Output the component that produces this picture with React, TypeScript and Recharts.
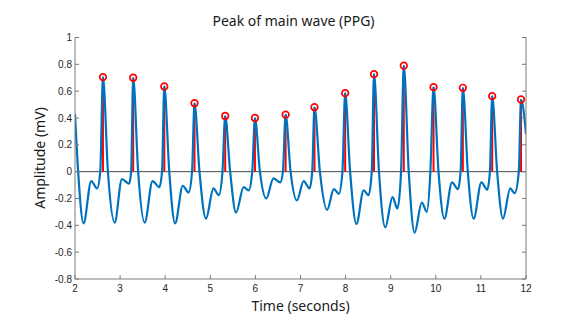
import React from 'react';
import { ComposedChart, Line, Scatter, XAxis, YAxis, ReferenceLine } from 'recharts';

// PPG waveform samples (time in s, amplitude in mV)
const ppgTime = [
  2.0, 2.07, 2.19, 2.36, 2.49, 2.56,
  2.62, 2.73, 2.88, 3.04, 3.2, 3.245,
  3.29, 3.4, 3.545, 3.72, 3.87, 3.93,
  3.98, 4.09, 4.22, 4.39, 4.52, 4.595,
  4.65, 4.76, 4.905, 5.07, 5.19, 5.27,
  5.33, 5.44, 5.57, 5.74, 5.85, 5.93,
  5.99, 6.1, 6.24, 6.4, 6.55, 6.61,
  6.67, 6.78, 6.92, 7.07, 7.2, 7.26,
  7.31, 7.43, 7.59, 7.74, 7.85, 7.93,
  7.99, 8.1, 8.24, 8.4, 8.51, 8.58,
  8.63, 8.74, 8.88, 9.04, 9.15, 9.23,
  9.29, 9.4, 9.53, 9.69, 9.8, 9.88,
  9.95, 10.06, 10.19, 10.36, 10.49, 10.55,
  10.6, 10.71, 10.84, 11.01, 11.14, 11.2,
  11.25, 11.36, 11.49, 11.65, 11.75, 11.84,
  11.89, 12.0,
];
const ppgAmp = [
  0.43, 0.0, -0.385, -0.07, -0.125, 0.0,
  0.705, 0.0, -0.38, -0.055, -0.09, 0.0,
  0.7, 0.0, -0.38, -0.07, -0.115, 0.0,
  0.635, 0.0, -0.385, -0.105, -0.155, 0.0,
  0.51, 0.0, -0.35, -0.125, -0.175, 0.0,
  0.415, 0.0, -0.305, -0.115, -0.14, 0.0,
  0.4, 0.0, -0.2, -0.05, -0.08, 0.0,
  0.425, 0.0, -0.215, -0.07, -0.125, 0.0,
  0.48, 0.0, -0.285, -0.13, -0.165, 0.0,
  0.585, 0.0, -0.39, -0.14, -0.175, 0.0,
  0.727, 0.0, -0.415, -0.19, -0.275, 0.0,
  0.79, 0.0, -0.455, -0.23, -0.3, 0.0,
  0.63, 0.0, -0.35, -0.08, -0.13, 0.0,
  0.625, 0.0, -0.35, -0.08, -0.135, 0.0,
  0.563, 0.0, -0.35, -0.125, -0.16, 0.0,
  0.538, 0.28,
];

// Detected main-wave peaks
const peakTime = [2.62, 3.29, 3.98, 4.65, 5.33, 5.99, 6.67, 7.31, 7.99, 8.63, 9.29, 9.95, 10.6, 11.25, 11.89];
const peakAmp = [0.705, 0.7, 0.635, 0.51, 0.415, 0.4, 0.425, 0.48, 0.585, 0.727, 0.79, 0.63, 0.625, 0.563, 0.538];

const xTicks = [2, 3, 4, 5, 6, 7, 8, 9, 10, 11, 12];
const yTicks = [-0.8, -0.6, -0.4, -0.2, 0, 0.2, 0.4, 0.6, 0.8, 1];

const titleText = 'Peak of main wave (PPG)';
const xLabel = 'Time (seconds)';
const yLabel = 'Amplitude (mV)';

const ppgData = ppgTime.map((t, i) => ({ t, v: ppgAmp[i] }));
const peakData = peakTime.map((t, i) => ({ t, v: peakAmp[i] }));

const AXIS = '#7a7a7a';
const TICK_STYLE = { fill: '#262626', fontSize: 10, fontFamily: '"Liberation Sans", Arial, sans-serif' };
const LABEL_FONT = '"Noto Sans", "Open Sans", sans-serif';

const PeakMarker = (props: any) => {
  const { cx, cy } = props;
  if (cx == null || cy == null) return null;
  return <circle cx={cx} cy={cy} r={3.3} fill="none" stroke="#ff0000" strokeWidth={1.7} />;
};

export default function App() {
  return (
    <div style={{ position: 'absolute', left: 0, top: 0, width: 580, height: 325, background: '#fff' }}>
      <ComposedChart width={580} height={325} margin={{ top: 37.5, right: 0, bottom: 0, left: 0 }}>
        <XAxis
          dataKey="t"
          type="number"
          domain={[2, 12]}
          ticks={xTicks}
          allowDataOverflow
          height={46}
          tickSize={-4}
          tickMargin={10}
          stroke={AXIS}
          tick={TICK_STYLE}
          tickLine={{ stroke: AXIS }}
        />
        <XAxis
          xAxisId="top"
          orientation="top"
          type="number"
          domain={[2, 12]}
          ticks={xTicks}
          allowDataOverflow
          height={0}
          tickSize={-4}
          tickFormatter={() => ''}
          stroke={AXIS}
          tickLine={{ stroke: AXIS }}
        />
        <YAxis
          type="number"
          domain={[-0.8, 1]}
          ticks={yTicks}
          allowDataOverflow
          width={75}
          tickSize={-4}
          tickMargin={7}
          stroke={AXIS}
          tick={TICK_STYLE}
          tickLine={{ stroke: AXIS }}
          tickFormatter={(v: number) => String(v)}
        />
        <YAxis
          yAxisId="right"
          orientation="right"
          type="number"
          domain={[-0.8, 1]}
          ticks={yTicks}
          allowDataOverflow
          width={54}
          tickSize={-4}
          tickFormatter={() => ''}
          stroke={AXIS}
          tickLine={{ stroke: AXIS }}
        />
        <ReferenceLine y={0} stroke="#454545" strokeWidth={1} />
        {peakData.map((p) => (
          <ReferenceLine
            key={p.t}
            segment={[{ x: p.t, y: 0 }, { x: p.t, y: p.v }]}
            stroke="#ff0000"
            strokeWidth={2}
          />
        ))}
        <Line
          data={ppgData}
          dataKey="v"
          type="monotone"
          stroke="#0072BD"
          strokeWidth={2.2}
          dot={false}
          activeDot={false}
          isAnimationActive={false}
        />
        <Scatter data={peakData} dataKey="v" shape={<PeakMarker />} isAnimationActive={false} />
      </ComposedChart>
      <div
        style={{
          position: 'absolute', left: 68, width: 451, top: 12, textAlign: 'center',
          fontFamily: LABEL_FONT, fontSize: 14, color: '#1a1a1a', lineHeight: '18px', whiteSpace: 'nowrap',
        }}
      >
        {titleText}
      </div>
      <div
        style={{
          position: 'absolute', left: 75, width: 451, top: 297, textAlign: 'center',
          fontFamily: LABEL_FONT, fontSize: 14, color: '#1a1a1a', lineHeight: '18px', whiteSpace: 'nowrap',
        }}
      >
        {xLabel}
      </div>
      <div
        style={{
          position: 'absolute', left: 40, top: 158, width: 0, height: 0,
        }}
      >
        <div
          style={{
            position: 'absolute', left: -80, top: -9, width: 160, textAlign: 'center',
            transform: 'rotate(-90deg)', fontFamily: LABEL_FONT, fontSize: 14, color: '#1a1a1a',
            lineHeight: '18px', whiteSpace: 'nowrap',
          }}
        >
          {yLabel}
        </div>
      </div>
    </div>
  );
}
